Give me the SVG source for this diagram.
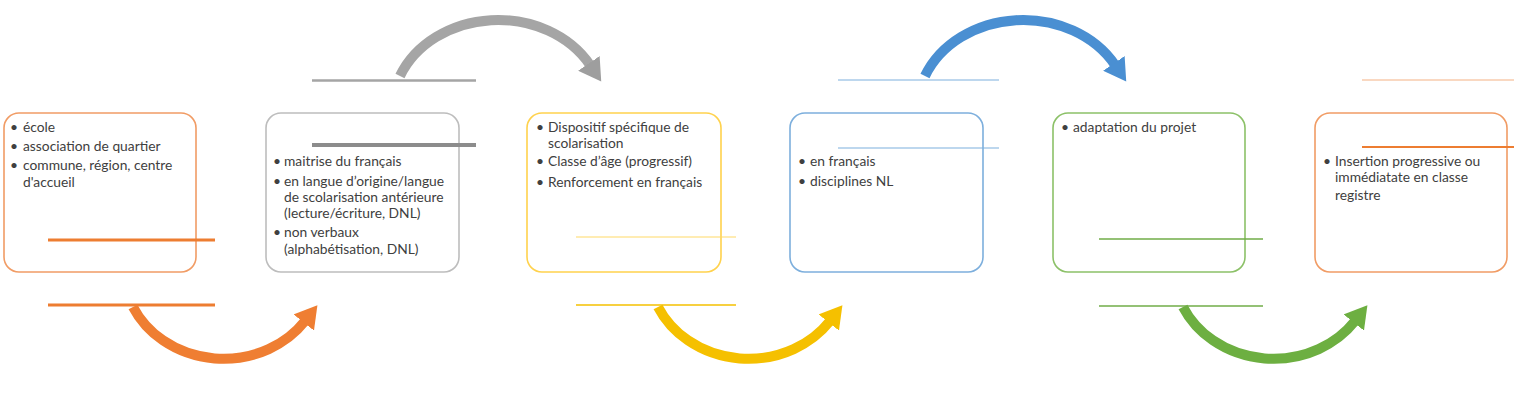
<svg xmlns="http://www.w3.org/2000/svg" width="1514" height="410" viewBox="0 0 1514 410">
<style>
.box{fill:#fff;stroke-width:1.6}
.t{font-family:Lato,"Open Sans",sans-serif;font-size:13.8px;fill:#404040}
.arc{fill:none;stroke-width:10}
</style>
<defs>
<marker id="hGray" markerUnits="userSpaceOnUse" markerWidth="24" markerHeight="26" refX="2" refY="13" orient="auto"><path d="M0,0 L22,13 L0,26 z" fill="#9E9E9E"/></marker>
<marker id="hBlue" markerUnits="userSpaceOnUse" markerWidth="24" markerHeight="26" refX="2" refY="13" orient="auto"><path d="M0,0 L22,13 L0,26 z" fill="#4A8FD2"/></marker>
<marker id="hOrange" markerUnits="userSpaceOnUse" markerWidth="24" markerHeight="26" refX="2" refY="13" orient="auto"><path d="M0,0 L22,13 L0,26 z" fill="#EF7E32"/></marker>
<marker id="hYellow" markerUnits="userSpaceOnUse" markerWidth="24" markerHeight="26" refX="2" refY="13" orient="auto"><path d="M0,0 L22,13 L0,26 z" fill="#F5C000"/></marker>
<marker id="hGreen" markerUnits="userSpaceOnUse" markerWidth="24" markerHeight="26" refX="2" refY="13" orient="auto"><path d="M0,0 L22,13 L0,26 z" fill="#6DAF41"/></marker>
</defs>

<g id="connectors">
<path class="arc" stroke="#A5A5A5" d="M400,76 A106,90 0 0,1 590,65" marker-end="url(#hGray)"/>
<path class="arc" stroke="#4A8FD2" d="M925,76 A106,90 0 0,1 1115,65" marker-end="url(#hBlue)"/>
<path class="arc" stroke="#EF7E32" d="M133,307 A100,90 0 0,0 305,321" marker-end="url(#hOrange)"/>
<path class="arc" stroke="#F5C000" d="M658,307 A100,90 0 0,0 830,321" marker-end="url(#hYellow)"/>
<path class="arc" stroke="#6DAF41" d="M1183,307 A100,90 0 0,0 1355,321" marker-end="url(#hGreen)"/>
</g>

<g id="node1">
<rect class="box" x="4" y="113" width="192" height="159" rx="15" stroke="#F19C65"/>
<line x1="48" y1="240" x2="215" y2="240" stroke="#ED7D31" stroke-width="3"/>
<line x1="48" y1="305" x2="215" y2="305" stroke="#ED7D31" stroke-width="3"/>
<text class="t"><tspan x="10" y="132">•</tspan><tspan x="23" y="132">école</tspan><tspan x="10" y="151">•</tspan><tspan x="23" y="151">association de quartier</tspan><tspan x="10" y="170">•</tspan><tspan x="23" y="170">commune, région, centre</tspan><tspan x="23" y="187">d'accueil</tspan></text>
</g>

<g id="node2">
<line x1="312" y1="80.5" x2="476" y2="80.5" stroke="#A5A5A5" stroke-width="2.5"/>
<rect class="box" x="266" y="113" width="193" height="159" rx="15" stroke="#BDBDBD"/>
<line x1="312" y1="145" x2="476" y2="145" stroke="#8C8C8C" stroke-width="4"/>
<text class="t"><tspan x="273" y="166">•</tspan><tspan x="284" y="166">maitrise du français</tspan><tspan x="273" y="186">•</tspan><tspan x="284" y="186">en langue d’origine/langue</tspan><tspan x="284" y="202">de scolarisation antérieure</tspan><tspan x="284" y="218">(lecture/écriture, DNL)</tspan><tspan x="273" y="237">•</tspan><tspan x="284" y="237">non verbaux</tspan><tspan x="284" y="254">(alphabétisation, DNL)</tspan></text>
</g>

<g id="node3">
<rect class="box" x="527" y="113" width="194" height="159" rx="15" stroke="#FFD24D"/>
<line x1="576" y1="237" x2="736" y2="237" stroke="#FFD966" stroke-width="1"/>
<line x1="576" y1="305" x2="736" y2="305" stroke="#F5C000" stroke-width="1.5"/>
<text class="t"><tspan x="536" y="132">•</tspan><tspan x="548" y="132">Dispositif spécifique de</tspan><tspan x="548" y="148">scolarisation</tspan><tspan x="536" y="166">•</tspan><tspan x="548" y="166">Classe d’âge (progressif)</tspan><tspan x="536" y="187">•</tspan><tspan x="548" y="187">Renforcement en français</tspan></text>
</g>

<g id="node4">
<line x1="838" y1="80" x2="999" y2="80" stroke="#7DAFDD" stroke-width="1"/>
<rect class="box" x="790" y="113" width="193" height="159" rx="15" stroke="#7DAFDD"/>
<line x1="838" y1="148" x2="999" y2="148" stroke="#7DAFDD" stroke-width="1.2"/>
<text class="t"><tspan x="798" y="166">•</tspan><tspan x="810" y="166">en français</tspan><tspan x="798" y="186">•</tspan><tspan x="810" y="186">disciplines NL</tspan></text>
</g>

<g id="node5">
<rect class="box" x="1053" y="113" width="192" height="159" rx="15" stroke="#8CC168"/>
<line x1="1099" y1="239" x2="1263" y2="239" stroke="#70AD47" stroke-width="1.5"/>
<line x1="1099" y1="306" x2="1263" y2="306" stroke="#70AD47" stroke-width="1.5"/>
<text class="t"><tspan x="1061" y="132">•</tspan><tspan x="1073" y="132">adaptation du projet</tspan></text>
</g>

<g id="node6">
<line x1="1362" y1="80" x2="1514" y2="80" stroke="#F4B183" stroke-width="1"/>
<rect class="box" x="1315" y="113" width="192" height="159" rx="15" stroke="#F19C65"/>
<line x1="1362" y1="147" x2="1514" y2="147" stroke="#ED7D31" stroke-width="2"/>
<text class="t"><tspan x="1323" y="166">•</tspan><tspan x="1335" y="166">Insertion progressive ou</tspan><tspan x="1335" y="182">immédiatate en classe</tspan><tspan x="1335" y="200">registre</tspan></text>
</g>
</svg>
